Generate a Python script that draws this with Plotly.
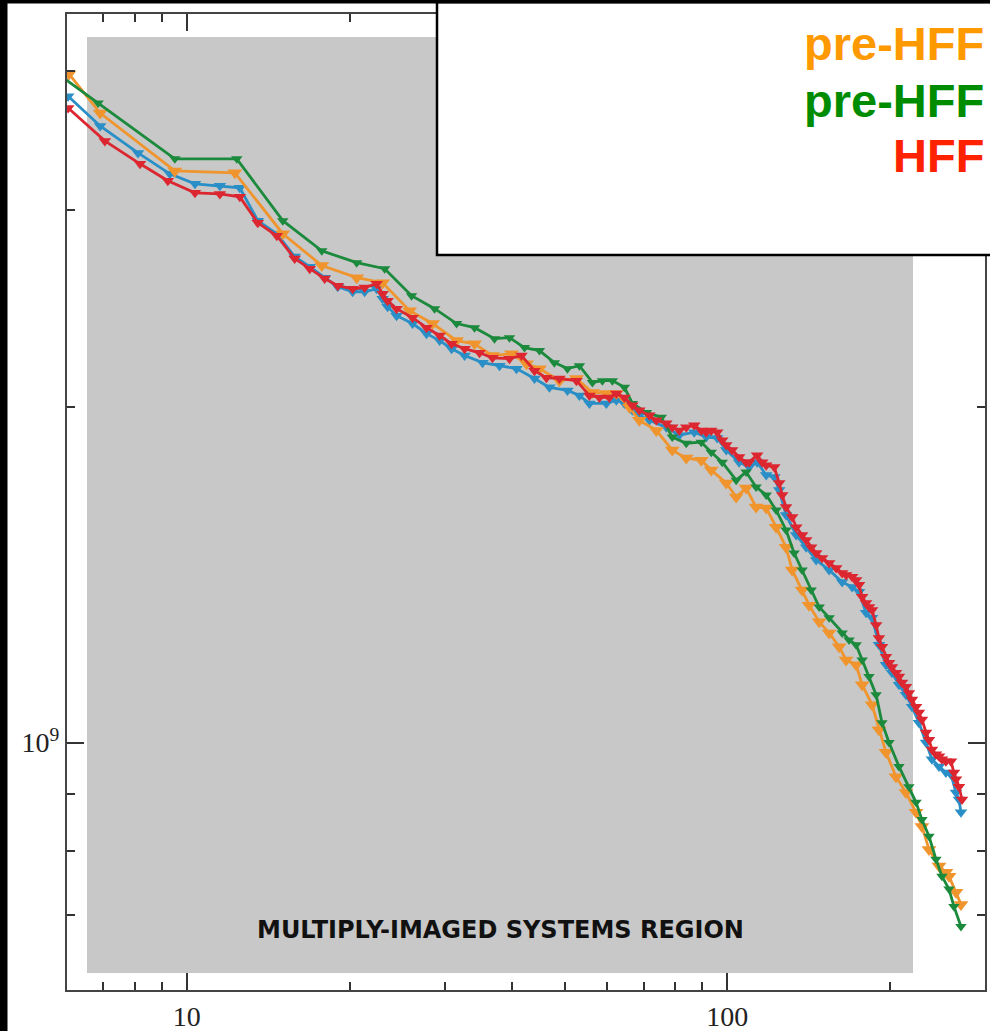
import math
import numpy as np
import plotly.graph_objects as go

# ---------------- data (x: radius, y: in units of 1e9) ----------------
red_x = [6.03, 7.05, 8.19, 9.22, 10.35, 11.51, 12.53, 13.53, 14.67, 15.83, 16.88, 17.99, 19.02, 20.27, 21.33, 22.45,
         23.03, 23.52, 24.44, 26.16, 27.77, 29.36, 30.90, 32.66, 34.80, 36.78, 39.54, 41.61, 43.99, 46.28, 48.92,
         52.60, 55.59, 58.01, 60.52, 62.35, 64.53, 66.76, 68.78, 71.77, 73.94, 77.14, 79.13, 81.53, 83.99, 86.90,
         89.53, 91.46, 93.42, 95.83, 97.90, 99.59, 102.1, 105.2, 108.4, 109.8, 113.6, 116.1, 118.1, 122.2, 124.8,
         126.4, 128.5, 131.9, 134.2, 137.6, 140.0, 143.0, 146.1, 149.8, 154.4, 159.1, 163.2, 166.0, 170.3, 173.2,
         175.4, 177.7, 180.7, 183.0, 185.4, 188.6, 190.9, 193.4, 196.7, 199.3, 201.8, 205.3, 207.9, 210.6, 214.2,
         216.9, 219.8, 223.6, 226.4, 229.3, 233.3, 236.3, 239.3, 243.4, 246.6, 249.7, 254.0, 259.5, 262.8, 265.1,
         268.5, 272.0]
red_y = [3.706, 3.463, 3.303, 3.189, 3.111, 3.104, 3.085, 2.924, 2.847, 2.716, 2.660, 2.606, 2.568, 2.552, 2.558,
         2.579, 2.526, 2.490, 2.449, 2.404, 2.355, 2.317, 2.278, 2.255, 2.236, 2.213, 2.209, 2.223, 2.155, 2.124,
         2.120, 2.111, 2.047, 2.039, 2.039, 2.056, 2.039, 2.006, 1.986, 1.965, 1.945, 1.933, 1.917, 1.905, 1.917,
         1.925, 1.905, 1.898, 1.905, 1.898, 1.867, 1.848, 1.829, 1.803, 1.784, 1.784, 1.810, 1.784, 1.773, 1.766,
         1.709, 1.667, 1.626, 1.593, 1.560, 1.535, 1.519, 1.497, 1.479, 1.464, 1.449, 1.434, 1.419, 1.413, 1.408,
         1.399, 1.385, 1.351, 1.334, 1.323, 1.315, 1.275, 1.241, 1.219, 1.194, 1.179, 1.169, 1.155, 1.146, 1.132,
         1.122, 1.108, 1.093, 1.077, 1.064, 1.049, 1.021, 1.006, 0.986, 0.976, 0.972, 0.966, 0.962, 0.962, 0.940,
         0.927, 0.913, 0.889]

blue_x = [6.03, 6.91, 8.12, 9.30, 10.35, 11.51, 12.53, 13.53, 14.67, 15.83, 16.88, 17.99, 19.02, 20.27, 21.33,
          22.45, 23.03, 23.52, 24.44, 26.16, 27.77, 29.36, 30.90, 32.66, 35.25, 37.90, 40.74, 43.99, 46.88, 50.62,
          53.27, 55.59, 59.75, 62.35, 64.53, 66.76, 68.78, 71.77, 77.14, 81.53, 86.90, 91.46, 95.83, 99.59, 105.2,
          109.8, 113.6, 118.1, 122.2, 124.8, 128.5, 134.2, 140.0, 146.1, 154.4, 163.2, 170.3, 175.4, 180.7, 185.4,
          190.9, 196.7, 201.8, 207.9, 214.2, 219.8, 226.4, 233.3, 239.3, 246.6, 254.0, 259.5, 265.1, 268.5, 270.8]
blue_y = [3.798, 3.571, 3.378, 3.235, 3.169, 3.156, 3.143, 2.937, 2.859, 2.727, 2.671, 2.611, 2.563, 2.536, 2.536,
          2.552, 2.500, 2.459, 2.414, 2.375, 2.326, 2.293, 2.255, 2.223, 2.191, 2.177, 2.164, 2.120, 2.082, 2.069,
          2.047, 2.014, 2.014, 2.027, 2.014, 1.986, 1.965, 1.945, 1.917, 1.886, 1.898, 1.879, 1.875, 1.829, 1.784,
          1.766, 1.784, 1.737, 1.730, 1.684, 1.600, 1.535, 1.497, 1.458, 1.428, 1.393, 1.379, 1.365, 1.307, 1.294,
          1.224, 1.174, 1.155, 1.127, 1.104, 1.077, 1.042, 1.000, 0.966, 0.952, 0.940, 0.936, 0.902, 0.889, 0.866]

green_x = [5.50, 6.85, 9.50, 12.37, 15.05, 17.77, 20.62, 23.23, 26.05, 28.74, 31.56, 34.07, 37.10, 39.54, 42.15,
           44.93, 47.88, 50.62, 53.27, 56.31, 58.75, 61.30, 64.53, 66.76, 70.86, 75.51, 79.13, 83.99, 89.53, 93.42,
           97.90, 103.9, 108.4, 113.1, 118.1, 123.2, 128.5, 133.0, 137.6, 143.0, 148.0, 154.4, 163.2, 168.1, 173.2,
           177.7, 183.0, 188.6, 193.4, 199.3, 207.9, 216.9, 223.6, 229.3, 236.3, 243.4, 249.7, 257.3, 262.8, 270.8]
green_y = [4.045, 3.744, 3.337, 3.337, 2.937, 2.760, 2.693, 2.660, 2.516, 2.449, 2.375, 2.355, 2.302, 2.307, 2.260,
           2.246, 2.191, 2.164, 2.177, 2.103, 2.111, 2.111, 2.082, 2.014, 1.977, 1.957, 1.879, 1.855, 1.859, 1.821,
           1.784, 1.719, 1.748, 1.695, 1.667, 1.616, 1.551, 1.479, 1.428, 1.370, 1.323, 1.294, 1.254, 1.236, 1.224,
           1.186, 1.146, 1.104, 1.042, 1.000, 0.952, 0.913, 0.884, 0.853, 0.824, 0.786, 0.759, 0.739, 0.713, 0.684]

orange_x = [6.05, 6.91, 9.50, 12.27, 15.05, 17.77, 20.62, 23.03, 25.83, 28.49, 31.56, 34.07, 36.78, 39.88, 42.52,
            44.93, 48.92, 52.60, 56.31, 59.75, 62.35, 65.92, 68.78, 73.94, 79.13, 83.99, 89.53, 93.42, 99.59, 103.9,
            108.4, 113.1, 118.1, 123.2, 128.5, 131.9, 137.6, 141.8, 148.0, 154.4, 161.1, 166.0, 173.2, 177.7, 185.4,
            190.9, 196.7, 205.3, 214.2, 223.6, 229.3, 236.3, 246.6, 254.0, 257.3, 265.1, 270.8]
orange_y = [3.976, 3.668, 3.255, 3.242, 2.859, 2.677, 2.611, 2.584, 2.439, 2.375, 2.293, 2.278, 2.223, 2.232, 2.186,
            2.164, 2.111, 2.120, 2.060, 2.056, 2.056, 1.998, 1.945, 1.905, 1.829, 1.799, 1.791, 1.755, 1.709, 1.660,
            1.691, 1.626, 1.623, 1.560, 1.497, 1.428, 1.370, 1.328, 1.283, 1.254, 1.219, 1.186, 1.174, 1.127, 1.081,
            1.027, 0.980, 0.932, 0.902, 0.866, 0.841, 0.802, 0.775, 0.765, 0.759, 0.734, 0.716]

legend_labels = ["pre-HFF", "pre-HFF", "HFF"]
region_label = "MULTIPLY-IMAGED SYSTEMS REGION"

x_major = [10, 100]
x_major_text = ["10", "100"]
x_minor = [7, 8, 9, 20, 30, 40, 50, 60, 70, 80, 90, 200]
y_major = [1e9]
y_major_text = ["10<sup>9</sup>"]
y_minor = [7e8, 8e8, 9e8, 2e9, 3e9, 4e9]

UNIT = 1e9

# ---------------- figure ----------------
fig = go.Figure()

series = [
    (blue_x, blue_y, "#2a8fc6", 11),
    (orange_x, orange_y, "#f0952e", 13),
    (green_x, green_y, "#1c8a3c", 10),
    (red_x, red_y, "#dc2630", 11),
]
for xs, ys, col, ms in series:
    fig.add_trace(go.Scatter(
        x=xs, y=np.array(ys) * UNIT, mode="lines+markers",
        line=dict(color=col, width=2.8),
        marker=dict(symbol="triangle-down", size=ms, color=col),
        showlegend=False, hoverinfo="skip"))

W, H = 990, 1031
ml, mr, mt, mb = 67, 5, 14, 41
pw, ph = W - ml - mr, H - mt - mb

def px(xpix):
    return (xpix - ml) / pw

def py(ypix):
    return (H - mb - ypix) / ph

shapes = [
    # grey multiply-imaged region
    dict(type="rect", xref="paper", yref="paper", x0=px(87), x1=px(913), y0=py(973), y1=py(37),
         fillcolor="rgb(200,200,200)", line=dict(width=0), layer="below"),
    # legend box
    dict(type="rect", xref="paper", yref="paper", x0=px(437), x1=px(1000), y0=py(255), y1=py(2),
         fillcolor="white", line=dict(color="black", width=2.5), layer="above"),
    # black frame strips (left and top)
    dict(type="rect", xref="paper", yref="paper", x0=px(-10), x1=px(7), y0=py(H + 10), y1=py(-10),
         fillcolor="black", line=dict(color="black", width=1), layer="above"),
    dict(type="rect", xref="paper", yref="paper", x0=px(-10), x1=px(W + 10), y0=py(3), y1=py(-10),
         fillcolor="black", line=dict(color="black", width=1), layer="above"),
]

annotations = [
    dict(xref="paper", yref="paper", x=px(500), y=py(930), text="<b>%s</b>" % region_label, showarrow=False,
         xanchor="center", yanchor="middle",
         font=dict(family="DejaVu Sans", size=24, color="#111111")),
]
leg_colors = ["#ff9900", "#008c00", "#ff2200"]
leg_centers = [44, 100, 156]
for lab, col, yc in zip(legend_labels, leg_colors, leg_centers):
    annotations.append(dict(xref="paper", yref="paper", x=px(986), y=py(yc), text="<b>%s</b>" % lab,
                            showarrow=False, xanchor="right", yanchor="middle",
                            font=dict(family="Liberation Sans", size=47, color=col)))

axis_common = dict(
    type="log", showgrid=False, zeroline=False, automargin=False,
    showline=True, linecolor="#444444", linewidth=2, mirror="ticks",
    ticks="inside", ticklen=17, tickwidth=1.5, tickcolor="#333333",
    tickfont=dict(family="Liberation Serif", size=28, color="#222222"),
)

fig.update_layout(
    width=W, height=H,
    margin=dict(l=ml, r=mr, t=mt, b=mb, pad=0),
    paper_bgcolor="white", plot_bgcolor="white",
    xaxis=dict(range=[math.log10(6), math.log10(300)], tickmode="array",
               tickvals=x_major, ticktext=x_major_text,
               minor=dict(tickmode="array", tickvals=x_minor, ticks="inside", ticklen=8,
                          tickwidth=1.5, tickcolor="#333333", showgrid=False),
               **axis_common),
    yaxis=dict(range=[math.log10(6e8), math.log10(4.5e9)], tickmode="array",
               tickvals=y_major, ticktext=y_major_text,
               minor=dict(tickmode="array", tickvals=y_minor, ticks="inside", ticklen=8,
                          tickwidth=1.5, tickcolor="#333333", showgrid=False),
               **axis_common),
    shapes=shapes, annotations=annotations,
    showlegend=False,
)

fig.write_html("out.html", config={"displayModeBar": False},
               post_script="document.body.style.margin='0px';document.body.style.padding='0px';"
                           "document.body.style.overflow='hidden';")
